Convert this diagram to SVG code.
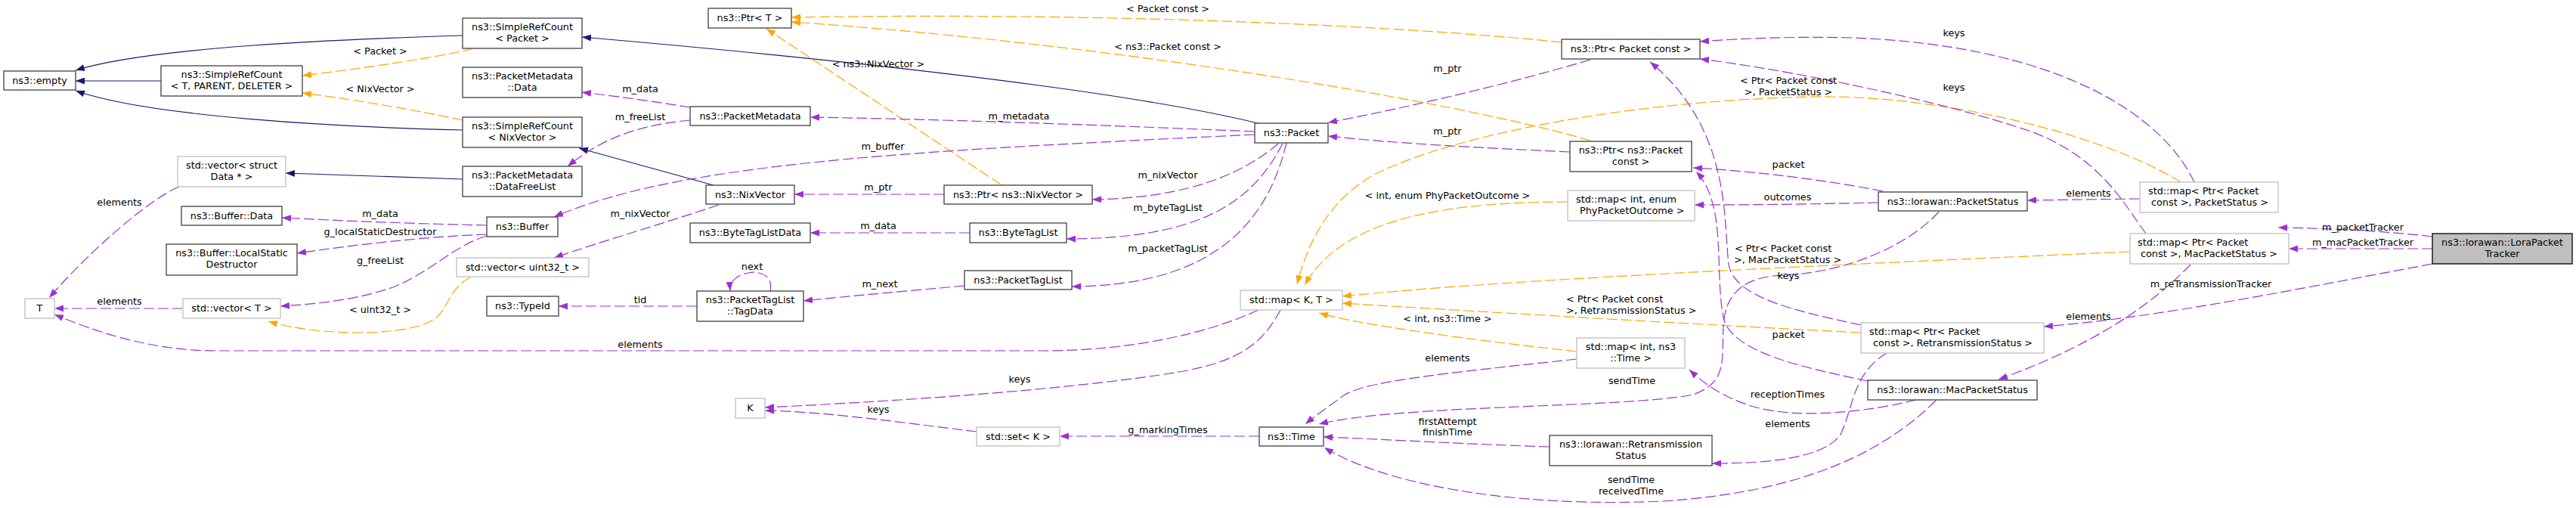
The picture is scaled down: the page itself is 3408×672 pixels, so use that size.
<svg xmlns="http://www.w3.org/2000/svg" width="3408" height="672" viewBox="0 0 3408 672">
<style>
text{font-family:"DejaVu Sans","Liberation Sans",sans-serif;font-size:12.8px;fill:#000}
.m{text-anchor:middle}
.n rect{fill:#fff;stroke:#404040;stroke-width:1.3}
.x rect{fill:#fff;stroke:#bfbfbf;stroke-width:1.3}
.r rect{fill:#bfbfbf;stroke:#000;stroke-width:1.3}
.e path{fill:none;stroke-width:1.2}
.b{stroke:#191970}
.o{stroke:#ffa500;stroke-dasharray:14,5}
.p{stroke:#9a32cd;stroke-dasharray:14,5}
</style>
<defs>
<marker id="ab" viewBox="0 0 12 9" refX="12" refY="4.5" markerWidth="12" markerHeight="9" orient="auto" markerUnits="userSpaceOnUse"><path d="M0,0L12,4.5L0,9z" fill="#191970"/></marker>
<marker id="ao" viewBox="0 0 12 9" refX="12" refY="4.5" markerWidth="12" markerHeight="9" orient="auto" markerUnits="userSpaceOnUse"><path d="M0,0L12,4.5L0,9z" fill="#ffa500"/></marker>
<marker id="ap" viewBox="0 0 12 9" refX="12" refY="4.5" markerWidth="12" markerHeight="9" orient="auto" markerUnits="userSpaceOnUse"><path d="M0,0L12,4.5L0,9z" fill="#9a32cd"/></marker>
</defs>
<rect width="3408" height="672" fill="#fff"/>
<g id="edges" class="e">
<g marker-end="url(#ab)">
<path class="b" d="M612,47 C450,52 200,62 100,93"/>
<path class="b" d="M213,107 L100,107"/>
<path class="b" d="M612,172 C450,168 200,155 100,120"/>
<path class="b" d="M612,237 L378,229"/>
<path class="b" d="M1664,163 C1550,135 1300,95 770,49"/>
<path class="b" d="M944,245 L766,196"/>
</g>
<g marker-end="url(#ao)">
<path class="o" d="M626,64 C600,72 500,88 400,100"/>
<path class="o" d="M612,159 C560,148 480,133 400,123"/>
<path class="o" d="M2066,56 C1900,38 1500,15 1047,23"/>
<path class="o" d="M2104,186 C1950,140 1500,60 1047,29"/>
<path class="o" d="M1324,244 L1014,38"/>
<path class="o" d="M2885,241 C2780,175 2560,125 2400,128 C2150,133 1920,180 1820,230 C1760,262 1730,320 1716,376"/>
<path class="o" d="M2074,267 C1880,267 1770,300 1726,377"/>
<path class="o" d="M2817,333 C2550,345 2000,368 1776,392"/>
<path class="o" d="M2462,440 C2300,432 2000,415 1776,401"/>
<path class="o" d="M2086,465 C1950,450 1800,430 1745,414"/>
<path class="o" d="M622,367 C595,380 592,410 575,422 C540,446 420,445 355,425"/>
</g>
<g marker-end="url(#ap)">
<path class="p" d="M237,247 C200,262 120,330 65,394"/>
<path class="p" d="M242,408 L72,408"/>
<path class="p" d="M1665,410 C1600,440 1500,464 1380,464 L288,464 C200,464 130,440 72,416"/>
<path class="p" d="M644,298 C550,296 450,292 373,288"/>
<path class="p" d="M644,310 C560,313 460,325 393,335"/>
<path class="p" d="M644,312 C600,325 570,360 520,380 C470,397 420,402 371,405"/>
<path class="p" d="M913,142 C870,135 820,128 770,122"/>
<path class="p" d="M913,159 C850,165 800,180 751,220"/>
<path class="p" d="M1660,178 C1200,200 900,215 733,287"/>
<path class="p" d="M1660,174 C1450,165 1250,158 1072,155"/>
<path class="p" d="M951,271 C880,295 800,318 733,341"/>
<path class="p" d="M1249,257 L1051,257"/>
<path class="p" d="M1283,308 L1072,308"/>
<path class="p" d="M1691,190 C1650,225 1580,262 1445,264"/>
<path class="p" d="M1697,190 C1660,260 1600,316 1411,316"/>
<path class="p" d="M1702,189 C1680,280 1620,378 1418,379"/>
<path class="p" d="M1276,378 C1200,385 1120,392 1063,398"/>
<path class="p" d="M1019,385 C1024,362 1000,358 990,361 C975,364 965,372 966,385"/>
<path class="p" d="M922,405 L739,405"/>
<path class="p" d="M1694,410 C1670,455 1640,478 1560,492 C1420,515 1200,530 1012,539"/>
<path class="p" d="M1292,571 C1200,560 1100,545 1012,543"/>
<path class="p" d="M1666,577 L1402,577"/>
<path class="p" d="M2086,475 C1900,495 1800,505 1775,525 C1755,540 1740,550 1727,561"/>
<path class="p" d="M2565,280 C2530,320 2450,360 2360,364 C2310,366 2283,385 2280,430 C2278,480 2285,505 2240,522 C2150,540 1850,535 1745,561"/>
<path class="p" d="M2561,530 C2500,590 2400,650 2200,663 C2000,672 1830,640 1752,592"/>
<path class="p" d="M2050,591 C1950,588 1850,582 1751,578"/>
<path class="p" d="M2104,79 C2000,110 1850,145 1757,162"/>
<path class="p" d="M2077,201 C1950,195 1850,190 1757,180"/>
<path class="p" d="M2491,253 C2400,235 2300,225 2240,222"/>
<path class="p" d="M2471,504 C2380,485 2290,465 2280,420 C2268,360 2285,270 2244,227"/>
<path class="p" d="M2485,268 C2400,270 2320,271 2242,271"/>
<path class="p" d="M2903,241 C2860,150 2720,60 2450,50 C2370,48 2300,51 2249,55"/>
<path class="p" d="M2839,309 C2810,270 2780,210 2690,175 C2560,130 2350,90 2249,78"/>
<path class="p" d="M2462,430 C2380,412 2295,395 2287,350 C2280,290 2290,170 2183,82"/>
<path class="p" d="M2831,263 L2682,265"/>
<path class="p" d="M2898,350 C2840,410 2760,460 2644,502"/>
<path class="p" d="M2496,467 C2450,495 2452,540 2435,575 C2410,610 2320,613 2265,613"/>
<path class="p" d="M2535,529 C2470,545 2380,555 2320,538 C2280,526 2255,508 2235,489"/>
<path class="p" d="M3218,313 C3150,305 3080,302 3014,301"/>
<path class="p" d="M3218,329 L3028,329"/>
<path class="p" d="M3218,349 C3000,390 2850,420 2704,432"/>
</g>
<g id="edge-labels">
<text class="m" x="503" y="72">&lt; Packet &gt;</text>
<text class="m" x="503" y="122">&lt; NixVector &gt;</text>
<text class="m" x="158" y="272">elements</text>
<text class="m" x="503" y="287">m_data</text>
<text class="m" x="503" y="311">g_localStaticDestructor</text>
<text class="m" x="503" y="349">g_freeList</text>
<text class="m" x="158" y="403">elements</text>
<text class="m" x="503" y="414">&lt; uint32_t &gt;</text>
<text class="m" x="847" y="122">m_data</text>
<text class="m" x="847" y="159">m_freeList</text>
<text class="m" x="847" y="287">m_nixVector</text>
<text class="m" x="1162" y="89">&lt; ns3::NixVector &gt;</text>
<text class="m" x="847" y="401">tid</text>
<text class="m" x="995" y="357">next</text>
<text class="m" x="847" y="460">elements</text>
<text class="m" x="1168" y="198">m_buffer</text>
<text class="m" x="1348" y="158">m_metadata</text>
<text class="m" x="1545" y="16">&lt; Packet const &gt;</text>
<text class="m" x="1545" y="66">&lt; ns3::Packet const &gt;</text>
<text class="m" x="1162" y="252">m_ptr</text>
<text class="m" x="1162" y="303">m_data</text>
<text class="m" x="1545" y="236">m_nixVector</text>
<text class="m" x="1545" y="279">m_byteTagList</text>
<text class="m" x="1545" y="333">m_packetTagList</text>
<text class="m" x="1164" y="380">m_next</text>
<text class="m" x="1349" y="506">keys</text>
<text class="m" x="1162" y="546">keys</text>
<text class="m" x="1545" y="573">g_markingTimes</text>
<text class="m" x="1915" y="95">m_ptr</text>
<text class="m" x="1915" y="178">m_ptr</text>
<text class="m" x="1915" y="263">&lt; int, enum PhyPacketOutcome &gt;</text>
<text class="m" x="1915" y="426">&lt; int, ns3::Time &gt;</text>
<text class="m" x="1915" y="478">elements</text>
<text class="m" x="1915" y="562">firstAttempt</text>
<text class="m" x="1915" y="576">finishTime</text>
<text class="m" x="2159" y="508">sendTime</text>
<text class="m" x="2158" y="639">sendTime</text>
<text class="m" x="2158" y="654">receivedTime</text>
<text x="2072" y="400">&lt; Ptr&lt; Packet const</text>
<text x="2072" y="415">&gt;, RetransmissionStatus &gt;</text>
<text class="m" x="2585" y="48">keys</text>
<text class="m" x="2585" y="120">keys</text>
<text class="m" x="2366" y="111">&lt; Ptr&lt; Packet const</text>
<text class="m" x="2366" y="126">&gt;, PacketStatus &gt;</text>
<text class="m" x="2366" y="222">packet</text>
<text class="m" x="2365" y="265">outcomes</text>
<text class="m" x="2763" y="260">elements</text>
<text x="2295" y="333">&lt; Ptr&lt; Packet const</text>
<text x="2294" y="348">&gt;, MacPacketStatus &gt;</text>
<text class="m" x="2366" y="369">keys</text>
<text class="m" x="2366" y="447">packet</text>
<text class="m" x="2365" y="526">receptionTimes</text>
<text class="m" x="2365" y="565">elements</text>
<text class="m" x="2763" y="423">elements</text>
<text class="m" x="3126" y="305">m_packetTracker</text>
<text class="m" x="3126" y="325">m_macPacketTracker</text>
<text class="m" x="2925" y="380">m_reTransmissionTracker</text>
</g>
</g>
<g id="n_empty" class="n"><rect x="5" y="94" width="95" height="25"/><text class="m" x="52.5" y="111">ns3::empty</text></g>
<g id="n_src_tpd" class="n"><rect x="213" y="87" width="187" height="40"/><text class="m" x="306.5" y="103">ns3::SimpleRefCount</text><text class="m" x="306.5" y="117.5">&lt; T, PARENT, DELETER &gt;</text></g>
<g id="n_vec_data" class="x"><rect x="235" y="207" width="143" height="40"/><text class="m" x="306.5" y="223">std::vector&lt; struct</text><text class="m" x="306.5" y="237.5">Data * &gt;</text></g>
<g id="n_buf_data" class="n"><rect x="240" y="273" width="133" height="25"/><text class="m" x="306.5" y="290">ns3::Buffer::Data</text></g>
<g id="n_lsd" class="n"><rect x="220" y="323" width="173" height="41"/><text class="m" x="306.5" y="339">ns3::Buffer::LocalStatic</text><text class="m" x="306.5" y="353.5">Destructor</text></g>
<g id="n_T" class="x"><rect x="33" y="395" width="39" height="26"/><text class="m" x="52.5" y="412">T</text></g>
<g id="n_vec_T" class="x"><rect x="242" y="395" width="129" height="26"/><text class="m" x="306.5" y="412">std::vector&lt; T &gt;</text></g>
<g id="n_src_packet" class="n"><rect x="612" y="24" width="158" height="40"/><text class="m" x="691" y="40">ns3::SimpleRefCount</text><text class="m" x="691" y="54.5">&lt; Packet &gt;</text></g>
<g id="n_pm_data" class="n"><rect x="612" y="89" width="158" height="40"/><text class="m" x="691" y="105">ns3::PacketMetadata</text><text class="m" x="691" y="119.5">::Data</text></g>
<g id="n_src_nix" class="n"><rect x="612" y="155" width="158" height="40"/><text class="m" x="691" y="171">ns3::SimpleRefCount</text><text class="m" x="691" y="185.5">&lt; NixVector &gt;</text></g>
<g id="n_pm_dfl" class="n"><rect x="612" y="220" width="158" height="40"/><text class="m" x="691" y="236">ns3::PacketMetadata</text><text class="m" x="691" y="250.5">::DataFreeList</text></g>
<g id="n_buffer" class="n"><rect x="644" y="287" width="94" height="26"/><text class="m" x="691" y="304">ns3::Buffer</text></g>
<g id="n_vec_u32" class="x"><rect x="604" y="341" width="175" height="25"/><text class="m" x="691.5" y="358">std::vector&lt; uint32_t &gt;</text></g>
<g id="n_typeid" class="n"><rect x="644" y="392" width="95" height="26"/><text class="m" x="691.5" y="409">ns3::TypeId</text></g>
<g id="n_ptr_T" class="n"><rect x="937" y="11" width="110" height="26"/><text class="m" x="992" y="28">ns3::Ptr&lt; T &gt;</text></g>
<g id="n_pm" class="n"><rect x="913" y="141" width="159" height="25"/><text class="m" x="992.5" y="158">ns3::PacketMetadata</text></g>
<g id="n_nix" class="n"><rect x="934" y="245" width="117" height="25"/><text class="m" x="992.5" y="262">ns3::NixVector</text></g>
<g id="n_btld" class="n"><rect x="913" y="295" width="159" height="26"/><text class="m" x="992.5" y="312">ns3::ByteTagListData</text></g>
<g id="n_tagdata" class="n"><rect x="922" y="385" width="141" height="40"/><text class="m" x="992.5" y="401">ns3::PacketTagList</text><text class="m" x="992.5" y="415.5">::TagData</text></g>
<g id="n_K" class="x"><rect x="973" y="527" width="39" height="26"/><text class="m" x="992.5" y="544">K</text></g>
<g id="n_packet" class="n"><rect x="1660" y="163" width="97" height="26"/><text class="m" x="1708.5" y="180">ns3::Packet</text></g>
<g id="n_ptr_nix" class="n"><rect x="1249" y="245" width="196" height="25"/><text class="m" x="1347" y="262">ns3::Ptr&lt; ns3::NixVector &gt;</text></g>
<g id="n_btl" class="n"><rect x="1283" y="295" width="128" height="26"/><text class="m" x="1347" y="312">ns3::ByteTagList</text></g>
<g id="n_ptl" class="n"><rect x="1276" y="358" width="142" height="25"/><text class="m" x="1347" y="375">ns3::PacketTagList</text></g>
<g id="n_map_KT" class="x"><rect x="1641" y="384" width="135" height="26"/><text class="m" x="1708.5" y="401">std::map&lt; K, T &gt;</text></g>
<g id="n_set_K" class="x"><rect x="1292" y="565" width="110" height="25"/><text class="m" x="1347" y="582">std::set&lt; K &gt;</text></g>
<g id="n_time" class="n"><rect x="1666" y="565" width="85" height="25"/><text class="m" x="1708.5" y="582">ns3::Time</text></g>
<g id="n_ptr_pc" class="n"><rect x="2066" y="52" width="183" height="26"/><text class="m" x="2157.5" y="69">ns3::Ptr&lt; Packet const &gt;</text></g>
<g id="n_ptr_npc" class="n"><rect x="2077" y="187" width="161" height="40"/><text class="m" x="2157.5" y="203">ns3::Ptr&lt; ns3::Packet</text><text class="m" x="2157.5" y="217.5">const &gt;</text></g>
<g id="n_map_phy" class="x"><rect x="2074" y="252" width="168" height="40"/><text x="2085" y="268">std::map&lt; int, enum</text><text x="2090" y="282.5">PhyPacketOutcome &gt;</text></g>
<g id="n_map_time" class="x"><rect x="2086" y="447" width="143" height="40"/><text class="m" x="2157.5" y="463">std::map&lt; int, ns3</text><text class="m" x="2157.5" y="477.5">::Time &gt;</text></g>
<g id="n_retx" class="n"><rect x="2050" y="576" width="215" height="40"/><text class="m" x="2157.5" y="592">ns3::lorawan::Retransmission</text><text class="m" x="2157.5" y="606.5">Status</text></g>
<g id="n_ps" class="n"><rect x="2485" y="254" width="197" height="25"/><text class="m" x="2583.5" y="271">ns3::lorawan::PacketStatus</text></g>
<g id="n_map_ps" class="x"><rect x="2831" y="241" width="183" height="40"/><text x="2842" y="257">std::map&lt; Ptr&lt; Packet</text><text x="2846" y="271.5">const &gt;, PacketStatus &gt;</text></g>
<g id="n_map_mps" class="x"><rect x="2818" y="309" width="210" height="40"/><text x="2828" y="325">std::map&lt; Ptr&lt; Packet</text><text x="2832" y="339.5">const &gt;, MacPacketStatus &gt;</text></g>
<g id="n_map_rs" class="x"><rect x="2462" y="427" width="242" height="40"/><text x="2473" y="443">std::map&lt; Ptr&lt; Packet</text><text x="2478" y="457.5">const &gt;, RetransmissionStatus &gt;</text></g>
<g id="n_mps" class="n"><rect x="2471" y="503" width="224" height="26"/><text class="m" x="2583" y="520">ns3::lorawan::MacPacketStatus</text></g>
<g id="n_lpt" class="r"><rect x="3218" y="309" width="185" height="40"/><text class="m" x="3310.5" y="325">ns3::lorawan::LoraPacket</text><text class="m" x="3310.5" y="339.5">Tracker</text></g>
</svg>
